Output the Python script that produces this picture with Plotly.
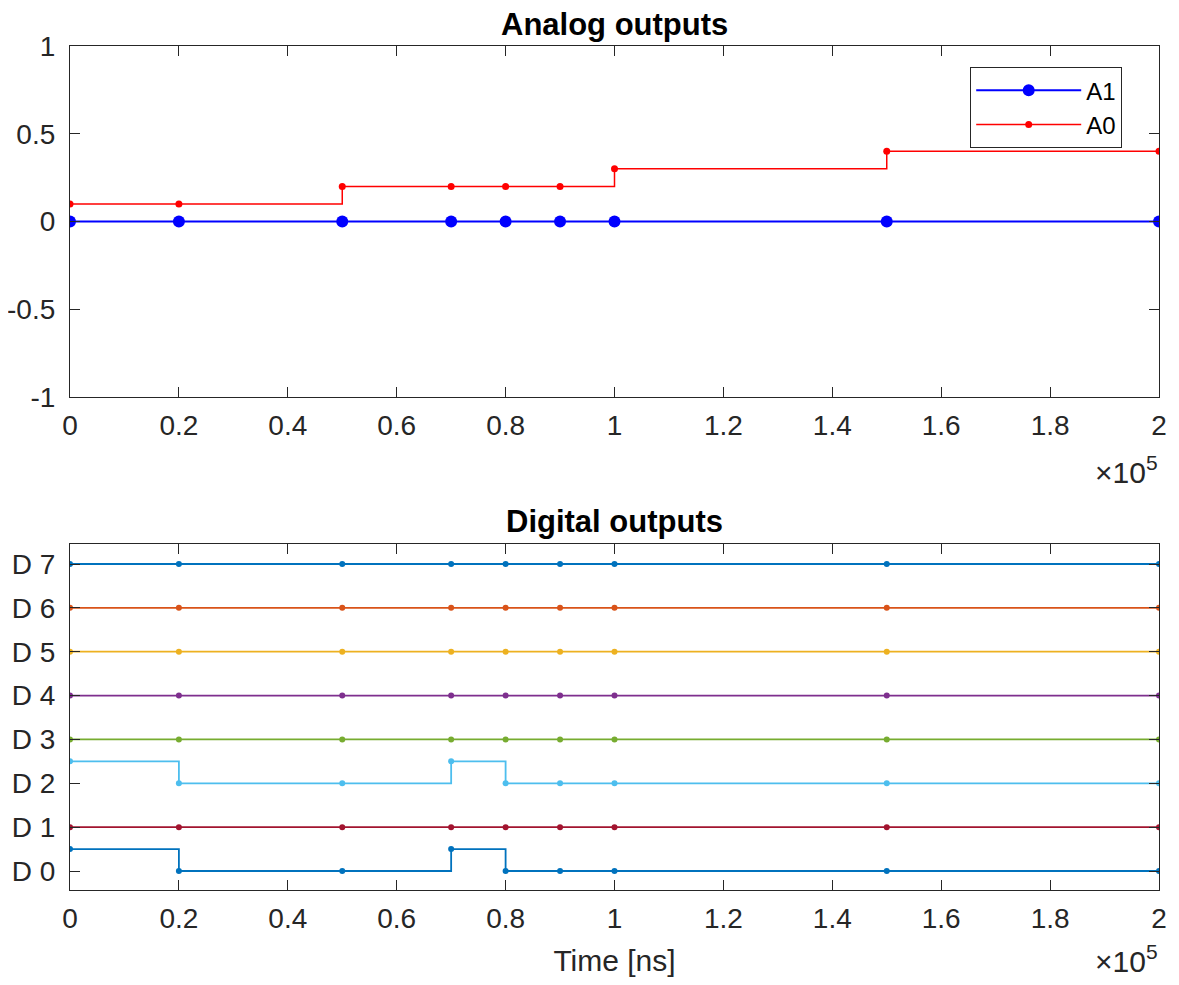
import plotly.graph_objects as go
from plotly.subplots import make_subplots

times = [0, 20000, 50000, 70000, 80000, 90000, 100000, 150000, 200000]
a1_values = [0, 0, 0, 0, 0, 0, 0, 0, 0]
a0_values = [0.1, 0.1, 0.2, 0.2, 0.2, 0.2, 0.3, 0.4, 0.4]

digital_names = ["D 0", "D 1", "D 2", "D 3", "D 4", "D 5", "D 6", "D 7"]
digital_states = [
    [1, 0, 0, 1, 0, 0, 0, 0, 0],
    [0, 0, 0, 0, 0, 0, 0, 0, 0],
    [1, 0, 0, 1, 0, 0, 0, 0, 0],
    [0, 0, 0, 0, 0, 0, 0, 0, 0],
    [0, 0, 0, 0, 0, 0, 0, 0, 0],
    [0, 0, 0, 0, 0, 0, 0, 0, 0],
    [0, 0, 0, 0, 0, 0, 0, 0, 0],
    [0, 0, 0, 0, 0, 0, 0, 0, 0],
]
digital_colors = ["#0072BD", "#A2142F", "#4DBEEE", "#77AC30",
                  "#7E2F8E", "#EDB120", "#D95319", "#0072BD"]

x_tickvals = [0, 20000, 40000, 60000, 80000, 100000, 120000, 140000, 160000, 180000, 200000]
x_ticktext = ["0", "0.2", "0.4", "0.6", "0.8", "1", "1.2", "1.4", "1.6", "1.8", "2"]
y_tickvals = [-1, -0.5, 0, 0.5, 1]
y_ticktext = ["-1", "-0.5", "0", "0.5", "1"]

OFF = 8  # page body margin
W, H = 1179 - 2 * OFF, 985 - 2 * OFF
ml, mt = 70 - OFF, 46 - OFF
mr = W - ml - 1089
mb = H - (890 - OFF)
ph = H - mt - mb

def py(p):
    """page pixel y -> paper coordinate"""
    return (H - mb - (p - OFF)) / ph

def px(p):
    return (p - OFF - ml) / (W - ml - mr)

fig = make_subplots(rows=2, cols=1)

fig.add_trace(go.Scatter(x=times, y=a1_values, name="A1", mode="lines+markers",
                         line=dict(color="#0000FF", width=2),
                         marker=dict(size=12, color="#0000FF")), row=1, col=1)
fig.add_trace(go.Scatter(x=times, y=a0_values, name="A0", mode="lines+markers",
                         line=dict(color="#FF0000", width=1.5, shape="hv"),
                         marker=dict(size=7, color="#FF0000")), row=1, col=1)

for i, (name, states, col) in enumerate(zip(digital_names, digital_states, digital_colors)):
    yv = [i + 0.5 * s for s in states]
    fig.add_trace(go.Scatter(x=times, y=yv, name=name, mode="lines+markers",
                             line=dict(color=col, width=1.8, shape="hv"),
                             marker=dict(size=6, color=col), showlegend=False),
                  row=2, col=1)

axcol = "#262626"
FAM = "Liberation Sans, Arial, sans-serif"
font = dict(family=FAM, size=28, color=axcol)

common_x = dict(range=[0, 200000], tickvals=x_tickvals, ticktext=x_ticktext,
                showgrid=False, zeroline=False, showline=True, linecolor=axcol,
                linewidth=1.2, mirror="ticks", ticks="inside", ticklen=10,
                tickcolor=axcol, tickfont=font, automargin=False, ticklabelstandoff=3)
fig.update_xaxes(**common_x)
fig.update_xaxes(title=dict(text="Time [ns]", font=dict(family=FAM, size=30, color=axcol), standoff=20),
                 row=2, col=1)

fig.update_yaxes(showgrid=False, zeroline=False, showline=True, linecolor=axcol,
                 linewidth=1.2, mirror="ticks", ticks="inside", ticklen=10,
                 tickcolor=axcol, tickfont=font, automargin=False, ticklabelstandoff=8)
fig.update_yaxes(range=[-1, 1], tickvals=y_tickvals, ticktext=y_ticktext,
                 domain=[py(397), 1.0], row=1, col=1)
fig.update_yaxes(range=[-0.433, 7.456], tickvals=list(range(8)), ticktext=digital_names,
                 domain=[0.0, py(544)], row=2, col=1)

sup_font = dict(family=FAM, size=30, color=axcol)
fig.update_layout(
    width=W, height=H,
    margin=dict(l=ml, r=mr, t=mt, b=mb, autoexpand=False),
    paper_bgcolor="white", plot_bgcolor="white",
    font=font,
    showlegend=True,
    legend=dict(x=px(970), y=py(67), xanchor="left", yanchor="top",
                bordercolor=axcol, borderwidth=1.2, bgcolor="white",
                font=dict(family=FAM, size=24, color="#000000"),
                itemwidth=105, tracegroupgap=0),
    annotations=[
        dict(text="<b>Analog outputs</b>", x=0.5, y=py(24), xref="paper", yref="paper",
             yanchor="middle", showarrow=False, font=dict(family=FAM, size=31, color="#000000")),
        dict(text="<b>Digital outputs</b>", x=0.5, y=py(521), xref="paper", yref="paper",
             yanchor="middle", showarrow=False, font=dict(family=FAM, size=31, color="#000000")),
        dict(text="×10<sup>5</sup>", x=px(1160), y=py(470), xref="paper", yref="paper",
             xanchor="right", yanchor="middle", showarrow=False, font=sup_font),
        dict(text="×10<sup>5</sup>", x=px(1160), y=py(959), xref="paper", yref="paper",
             xanchor="right", yanchor="middle", showarrow=False, font=sup_font),
    ],
)

fig.write_html("out.html")
